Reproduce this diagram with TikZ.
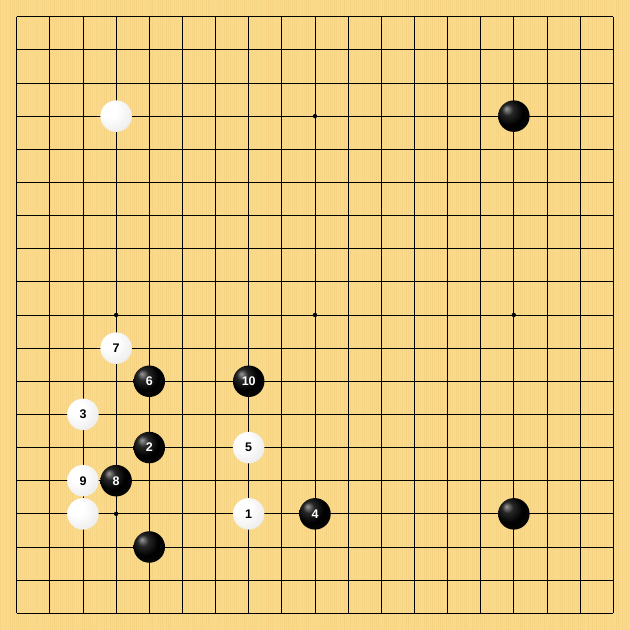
\documentclass[tikz,border=0pt]{standalone}
\usepackage{fontspec}
\setsansfont{Liberation Sans}
\definecolor{wood}{RGB}{250,219,140}
\definecolor{woodstripe}{RGB}{236,196,112}
\pgfdeclareradialshading{bshade}{\pgfpoint{-12bp}{12bp}}{color(0bp)=(black!40); color(9bp)=(black!85); color(22bp)=(black); color(42bp)=(black!95); color(60bp)=(black!72)}
\pgfdeclareradialshading{wshade}{\pgfpoint{-12bp}{12bp}}{color(0bp)=(white); color(12bp)=(white); color(36bp)=(black!8); color(55bp)=(black!28); color(68bp)=(black!42)}
\tikzset{
  stonefont/.style={font=\sffamily\bfseries\fontsize{12.5}{12.5}\selectfont},
  bstone/.style={circle, minimum size=31.5pt, inner sep=0pt, shading=bshade, text=white, stonefont},
  wstone/.style={circle, minimum size=31.5pt, inner sep=0pt, shading=wshade, text=black, stonefont},
  gridline/.style={line width=0.9pt, black},
}
\begin{document}
\begin{tikzpicture}[x=33.14pt,y=-33.14pt]
\useasboundingbox (-0.504,-0.504) rectangle (18.505,18.505);
\fill[wood] (-0.504,-0.504) rectangle (18.505,18.505);
\pgfmathsetseed{7}
\begin{scope}[x=1pt,y=-1pt,shift={(-16.7pt,16.7pt)}]
\foreach \i in {0,2,...,628}{
  \pgfmathsetmacro{\op}{0.08+0.3*rnd}
  \fill[woodstripe,opacity=\op] (\i,0) rectangle (\i+1,630);
}
\end{scope}
\foreach \k in {0,...,18}{
  \draw[gridline] (\k,0) -- (\k,18);
  \draw[gridline] (0,\k) -- (18,\k);
}
\foreach \c in {3,9,15}{
  \foreach \r in {3,9,15}{
    \fill (\c,\r) circle (2.2pt);
  }
}
% white stones
\node[wstone] (w1) at (3,3) {};
\node[wstone] (w7) at (3,10) {7};
\node[wstone] (w3) at (2,12) {3};
\node[wstone] (w5) at (7,13) {5};
\node[wstone] (w9) at (2,14) {9};
\node[wstone] (w2) at (2,15) {};
\node[wstone] (w1n) at (7,15) {1};
% black stones
\node[bstone] (b1) at (15,3) {};
\node[bstone] (b6) at (4,11) {6};
\node[bstone] (b10) at (7,11) {10};
\node[bstone] (b2) at (4,13) {2};
\node[bstone] (b8) at (3,14) {8};
\node[bstone] (b4) at (9,15) {4};
\node[bstone] (b15) at (15,15) {};
\node[bstone] (b16) at (4,16) {};
\end{tikzpicture}
\end{document}
